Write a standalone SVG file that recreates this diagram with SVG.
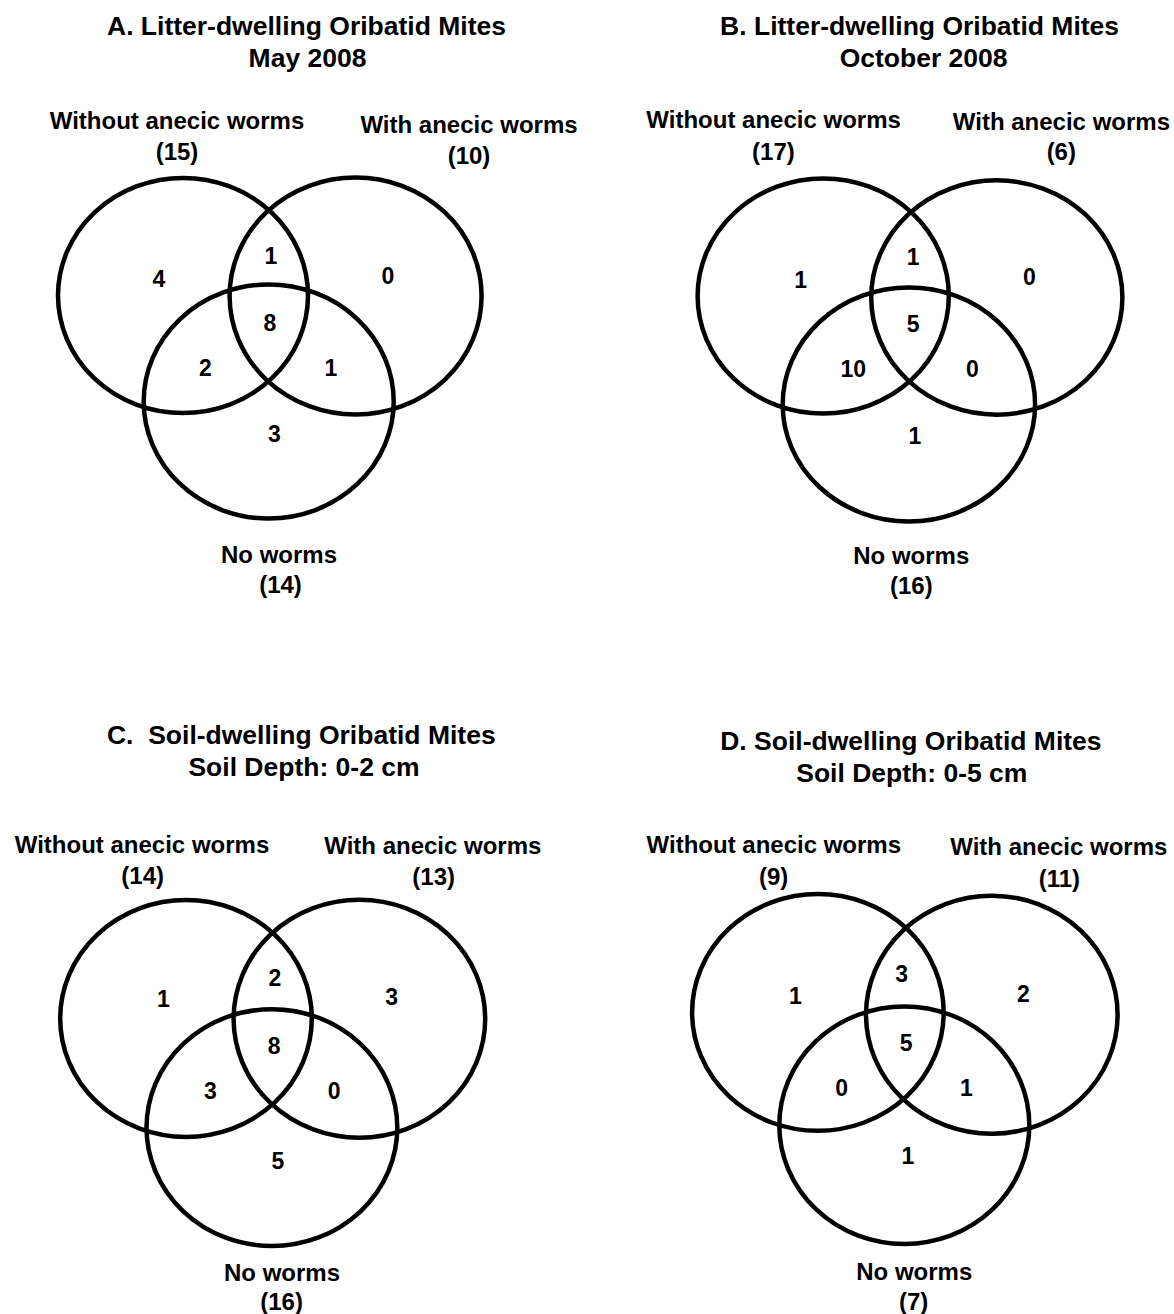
<svg xmlns="http://www.w3.org/2000/svg" width="1174" height="1314" viewBox="0 0 1174 1314">
<style>
text{font-family:"Liberation Sans",Arial,sans-serif;font-weight:bold;fill:#000;text-anchor:middle}
.t{font-size:26.5px}
.l{font-size:24px}
.n{font-size:23px}
ellipse{fill:none;stroke:#000;stroke-width:4.5}
</style>
<rect width="1174" height="1314" fill="#fff"/>

<g id="panelA">
  <text class="t" x="306.5" y="35">A. Litter-dwelling Oribatid Mites</text>
  <text class="t" x="307.5" y="67">May 2008</text>
  <g id="A-without"><ellipse cx="183" cy="295.5" rx="125" ry="117.6"/>
    <text class="l" x="177" y="128.5">Without anecic worms</text><text class="l" x="177" y="159.5">(15)</text></g>
  <g id="A-with"><ellipse cx="355.6" cy="296" rx="126" ry="118.5"/>
    <text class="l" x="469" y="133">With anecic worms</text><text class="l" x="469" y="164">(10)</text></g>
  <g id="A-none"><ellipse cx="268.7" cy="401.5" rx="125" ry="117"/>
    <text class="l" x="279" y="563">No worms</text><text class="l" x="280.5" y="592.5">(14)</text></g>
  <g id="A-counts">
    <text class="n" x="159" y="287">4</text>
    <text class="n" x="271" y="263.5">1</text>
    <text class="n" x="388" y="284">0</text>
    <text class="n" x="270" y="331">8</text>
    <text class="n" x="205.5" y="376">2</text>
    <text class="n" x="331" y="376">1</text>
    <text class="n" x="274.5" y="442">3</text>
  </g>
</g>

<g id="panelB">
  <text class="t" x="919.6" y="35">B. Litter-dwelling Oribatid Mites</text>
  <text class="t" x="923.6" y="67">October 2008</text>
  <g id="B-without"><ellipse cx="823.2" cy="296" rx="125.6" ry="117.6"/>
    <text class="l" x="773.6" y="128">Without anecic worms</text><text class="l" x="773.4" y="159.5">(17)</text></g>
  <g id="B-with"><ellipse cx="996.8" cy="297.5" rx="125.6" ry="117.2"/>
    <text class="l" x="1061.4" y="130">With anecic worms</text><text class="l" x="1061.3" y="159.5">(6)</text></g>
  <g id="B-none"><ellipse cx="908.9" cy="404.5" rx="126.2" ry="117"/>
    <text class="l" x="911.3" y="564">No worms</text><text class="l" x="911.3" y="594">(16)</text></g>
  <g id="B-counts">
    <text class="n" x="800.7" y="287.6">1</text>
    <text class="n" x="913.2" y="265">1</text>
    <text class="n" x="1029.4" y="284.9">0</text>
    <text class="n" x="913.2" y="332">5</text>
    <text class="n" x="853.2" y="376.6">10</text>
    <text class="n" x="972.4" y="376.6">0</text>
    <text class="n" x="915" y="443.5">1</text>
  </g>
</g>

<g id="panelC">
  <text class="t" x="301.3" y="743.9" xml:space="preserve">C.  Soil-dwelling Oribatid Mites</text>
  <text class="t" x="304" y="776">Soil Depth: 0-2 cm</text>
  <g id="C-without"><ellipse cx="186" cy="1018.5" rx="125.8" ry="118.4"/>
    <text class="l" x="142" y="852.5">Without anecic worms</text><text class="l" x="142.7" y="884">(14)</text></g>
  <g id="C-with"><ellipse cx="359.4" cy="1018.8" rx="125.8" ry="119"/>
    <text class="l" x="432.8" y="854">With anecic worms</text><text class="l" x="433.7" y="885">(13)</text></g>
  <g id="C-none"><ellipse cx="271.9" cy="1127.6" rx="125.4" ry="118.4"/>
    <text class="l" x="282" y="1281">No worms</text><text class="l" x="281.6" y="1310">(16)</text></g>
  <g id="C-counts">
    <text class="n" x="163.3" y="1007.3">1</text>
    <text class="n" x="274.9" y="985.5">2</text>
    <text class="n" x="391.7" y="1005">3</text>
    <text class="n" x="274.1" y="1054">8</text>
    <text class="n" x="210.3" y="1099">3</text>
    <text class="n" x="334.2" y="1099">0</text>
    <text class="n" x="277.9" y="1168.5">5</text>
  </g>
</g>

<g id="panelD">
  <text class="t" x="910.9" y="749.8">D. Soil-dwelling Oribatid Mites</text>
  <text class="t" x="911.8" y="781.9">Soil Depth: 0-5 cm</text>
  <g id="D-without"><ellipse cx="817.9" cy="1012.4" rx="125.8" ry="118.4"/>
    <text class="l" x="773.8" y="852.5">Without anecic worms</text><text class="l" x="773.6" y="885">(9)</text></g>
  <g id="D-with"><ellipse cx="991.8" cy="1014.7" rx="125.8" ry="119"/>
    <text class="l" x="1058.8" y="855">With anecic worms</text><text class="l" x="1059.4" y="886.5">(11)</text></g>
  <g id="D-none"><ellipse cx="904.3" cy="1125.2" rx="125" ry="118.8"/>
    <text class="l" x="914.3" y="1280">No worms</text><text class="l" x="913.7" y="1310">(7)</text></g>
  <g id="D-counts">
    <text class="n" x="795.4" y="1003.5">1</text>
    <text class="n" x="901.7" y="981.5">3</text>
    <text class="n" x="1023.3" y="1002">2</text>
    <text class="n" x="906.2" y="1051">5</text>
    <text class="n" x="841.6" y="1095.5">0</text>
    <text class="n" x="966.3" y="1095.5">1</text>
    <text class="n" x="908" y="1164">1</text>
  </g>
</g>
</svg>
